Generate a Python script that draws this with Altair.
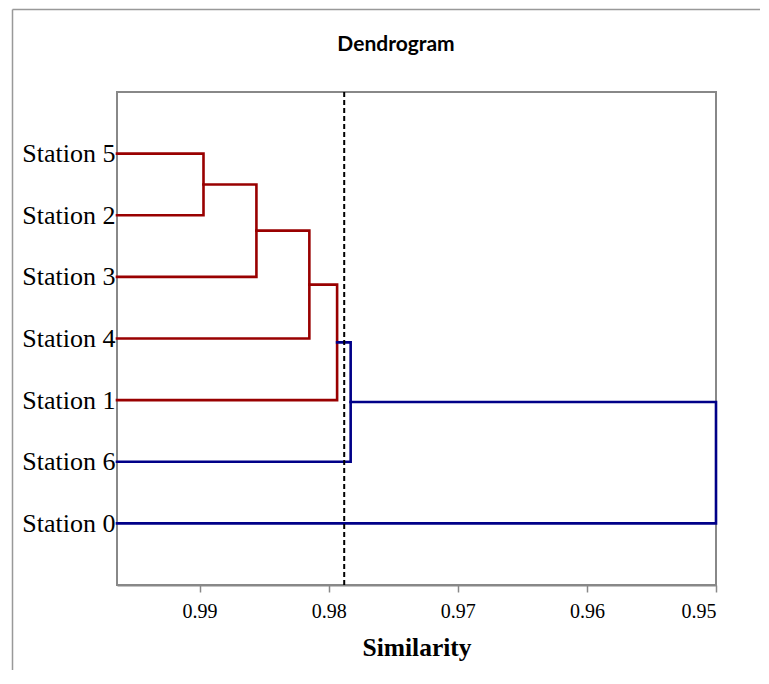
import altair as alt
import pandas as pd

# ---- data ----
leaves = ["Station 5", "Station 2", "Station 3", "Station 4", "Station 1", "Station 6", "Station 0"]
merge_left = ["Station 5", "n0", "n1", "n2", "n3", "n4"]
merge_right = ["Station 2", "Station 3", "Station 4", "Station 1", "Station 6", "Station 0"]
merge_height = [0.9897, 0.9856, 0.9815, 0.97935, 0.9783, 0.950]
merge_group = ["red", "red", "red", "red", "blue", "blue"]
threshold = [0.9788]
x_ticks = [0.99, 0.98, 0.97, 0.96, 0.95]
x_domain = [0.9964, 0.95]
chart_title = ["Dendrogram"]

# ---- build dendrogram path table from the linkage ----
pos = {}
for i, name in enumerate(leaves):
    pos[name] = (x_domain[0], i + 1)

rows = []
for k, (a, b, h, g) in enumerate(zip(merge_left, merge_right, merge_height, merge_group)):
    xa, ya = pos[a]
    xb, yb = pos[b]
    pts = [(xa, ya), (h, ya), (h, yb), (xb, yb)]
    for j, (px, py) in enumerate(pts):
        rows.append({"link": k, "order": j, "sim": px, "pos": py, "group": g})
    pos["n%d" % k] = (h, (ya + yb) / 2)
links = pd.DataFrame(rows)
thr = pd.DataFrame({"sim": threshold})
ttl = pd.DataFrame({"t": chart_title})

label_expr = "[" + ",".join(["''"] + ["'%s'" % s for s in leaves] + ["''"]) + "][datum.value]"

xscale = alt.Scale(domain=x_domain, nice=False, zero=False)
yscale = alt.Scale(domain=[0, len(leaves) + 1], reverse=True, nice=False, zero=False)
xaxis = alt.Axis(values=x_ticks, format=".2f", grid=False, title="Similarity",
                 labelFont="Liberation Serif", labelFontSize=20, labelColor="black",
                 labelPadding=9, tickSize=7, tickColor="#888888", tickWidth=1.5,
                 domainColor="#888888", domainWidth=2,
                 titleFont="Liberation Serif", titleFontSize=25.5, titleFontWeight="bold",
                 titleColor="black", titlePadding=14)

lines = alt.Chart(links).mark_line(strokeWidth=2.6, strokeJoin="miter", strokeCap="square").encode(
    x=alt.X("sim:Q", scale=xscale, axis=xaxis),
    y=alt.Y("pos:Q", scale=yscale,
            axis=alt.Axis(values=list(range(1, len(leaves) + 1)), labelExpr=label_expr,
                          grid=False, ticks=False, domain=False, title=None,
                          labelFont="Liberation Serif", labelFontSize=26, labelColor="black",
                          labelPadding=2)),
    color=alt.Color("group:N", scale=alt.Scale(domain=["red", "blue"], range=["#990000", "#000088"]),
                    legend=None),
    detail="link:N",
    order="order:Q",
)

rule = alt.Chart(thr).mark_rule(color="black", strokeWidth=2, strokeDash=[5, 3]).encode(
    x=alt.X("sim:Q", scale=xscale, axis=xaxis))

frame_left = alt.Chart(thr).mark_rule(color="#999999", strokeWidth=1.5).encode(
    x=alt.value(-104.5), y=alt.value(-82.5), y2=alt.value(700))
frame_top = alt.Chart(thr).mark_rule(color="#999999", strokeWidth=1.5).encode(
    x=alt.value(-104.5), x2=alt.value(700), y=alt.value(-82.5))

title_text = alt.Chart(ttl).mark_text(font="Lato", fontSize=21, fontWeight="bold", color="black",
                                      align="center", baseline="middle").encode(
    text="t:N", x=alt.value(279), y=alt.value(-47))

chart = alt.layer(frame_left, frame_top, lines, rule, title_text).properties(
    width=599, height=493,
    autosize=alt.AutoSizeParams(type="none"),
    padding={"left": 109, "top": 84, "right": 44, "bottom": 85},
).configure(background="white").configure_view(stroke="#888888", strokeWidth=2)

chart.save("out.html", embed_options={"renderer": "svg", "actions": False})
